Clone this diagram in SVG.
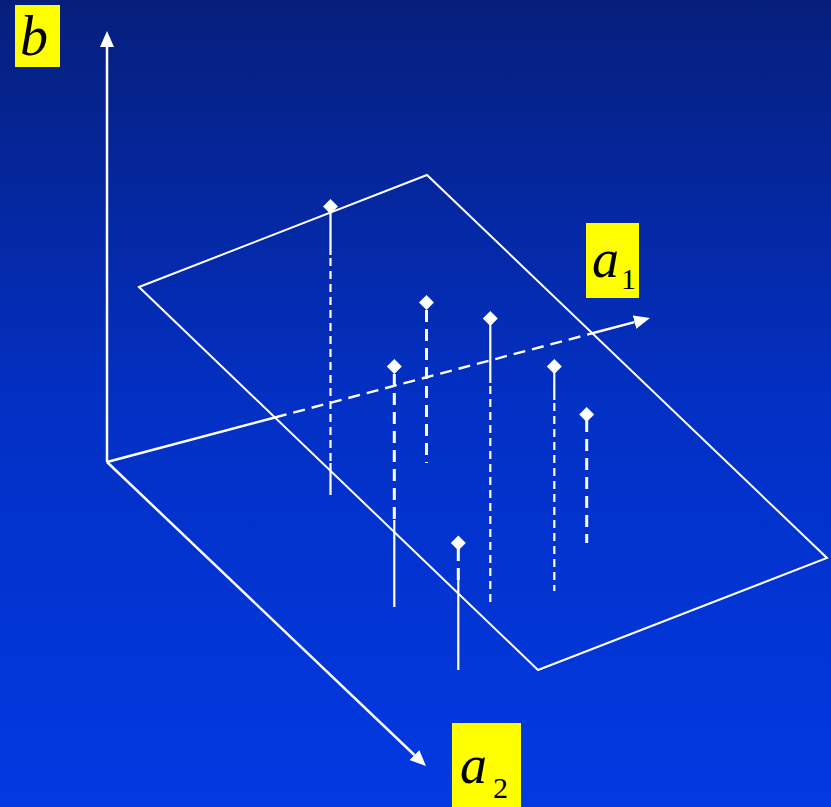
<svg xmlns="http://www.w3.org/2000/svg" width="831" height="807" viewBox="0 0 831 807">
  <defs>
    <linearGradient id="bg" x1="0" y1="0" x2="0" y2="1">
      <stop offset="0" stop-color="#061f7c"/>
      <stop offset="0.5" stop-color="#0330c4"/>
      <stop offset="1" stop-color="#0239e2"/>
    </linearGradient>
    <marker id="arr" viewBox="0 0 16 14" refX="0" refY="7" markerWidth="16" markerHeight="14" markerUnits="userSpaceOnUse" orient="auto">
      <path d="M0,0 L16,7 L0,14 z" fill="#ffffff"/>
    </marker>
  </defs>
  <style>
    .ax { stroke: #ffffff; stroke-width: 2.5; fill: none; }
    .pl { stroke: #ffffff; stroke-width: 2; fill: none; }
    .sol { stroke: #ffffff; stroke-width: 2.2; fill: none; }
    .fd { stroke: #ffffff; stroke-width: 2.2; stroke-dasharray: 8 5; fill: none; }
    .td { stroke: #ffffff; stroke-width: 3; stroke-dasharray: 12 7; fill: none; }
    .axd { stroke: #ffffff; stroke-width: 2.4; stroke-dasharray: 12 7; fill: none; }
    .dm { fill: #ffffff; }
    .lb { fill: #ffff00; }
    .tx { font-family: "Liberation Serif", "Times New Roman", serif; font-style: italic; fill: #000000; }
    .sub { font-family: "Liberation Serif", "Times New Roman", serif; fill: #000000; }
  </style>
  <rect x="0" y="0" width="831" height="807" fill="url(#bg)"/>

  <g id="plane">
    <polygon class="pl" points="139,287 427,175 827,558 538,670"/>
  </g>

  <g id="connectors">
    <line class="ax" x1="107" y1="462" x2="107" y2="47" marker-end="url(#arr)"/>
    <line class="ax" x1="107" y1="462" x2="414.4" y2="755" marker-end="url(#arr)"/>
    <line class="ax" x1="107" y1="462" x2="274.9" y2="417.5"/>
    <line class="axd" x1="274.9" y1="417.5" x2="592.3" y2="333.3"/>
    <line class="ax" x1="592.3" y1="333.3" x2="634.5" y2="322.1" marker-end="url(#arr)"/>
  </g>

  <g id="point1">
    <line class="sol" x1="330.5" y1="210" x2="330.5" y2="255"/>
    <line class="fd" x1="330.5" y1="258" x2="330.5" y2="462"/>
    <line class="sol" x1="330.5" y1="463" x2="330.5" y2="495"/>
    <polygon class="dm" points="330.5,199 338,206.5 330.5,214 323,206.5"/>
  </g>
  <g id="point2">
    <line class="td" x1="426.5" y1="310" x2="426.5" y2="463"/>
    <polygon class="dm" points="426.5,295 434,302.5 426.5,310 419,302.5"/>
  </g>
  <g id="point3">
    <line class="sol" x1="490.3" y1="320" x2="490.3" y2="383"/>
    <line class="fd" x1="490.3" y1="386" x2="490.3" y2="607"/>
    <polygon class="dm" points="490.3,311 497.8,318.5 490.3,326 482.8,318.5"/>
  </g>
  <g id="point4">
    <line class="td" x1="394.3" y1="374" x2="394.3" y2="520"/>
    <line class="sol" x1="394.3" y1="520" x2="394.3" y2="607"/>
    <polygon class="dm" points="394.3,359 401.8,366.5 394.3,374 386.8,366.5"/>
  </g>
  <g id="point5">
    <line class="sol" x1="554.3" y1="368" x2="554.3" y2="400"/>
    <line class="fd" x1="554.3" y1="403" x2="554.3" y2="591"/>
    <polygon class="dm" points="554.3,359 561.8,366.5 554.3,374 546.8,366.5"/>
  </g>
  <g id="point6">
    <line class="td" x1="586.7" y1="420" x2="586.7" y2="543"/>
    <polygon class="dm" points="586.7,407 594.2,414.5 586.7,422 579.2,414.5"/>
  </g>
  <g id="point7">
    <line class="td" x1="458.3" y1="549" x2="458.3" y2="580"/>
    <line class="sol" x1="458.3" y1="580" x2="458.3" y2="670"/>
    <polygon class="dm" points="458.3,535.5 465.8,543 458.3,550.5 450.8,543"/>
  </g>

  <g id="label-b">
    <rect class="lb" x="15" y="5" width="45" height="62"/>
    <text class="tx" x="20" y="55" font-size="56">b</text>
  </g>
  <g id="label-a1">
    <rect class="lb" x="586" y="223" width="53" height="75"/>
    <text class="tx" x="592" y="277" font-size="54">a</text>
    <text class="sub" x="621" y="289" font-size="30">1</text>
  </g>
  <g id="label-a2">
    <rect class="lb" x="452" y="723" width="69" height="84"/>
    <text class="tx" x="460" y="783" font-size="54">a</text>
    <text class="sub" x="493" y="798" font-size="30">2</text>
  </g>
</svg>
